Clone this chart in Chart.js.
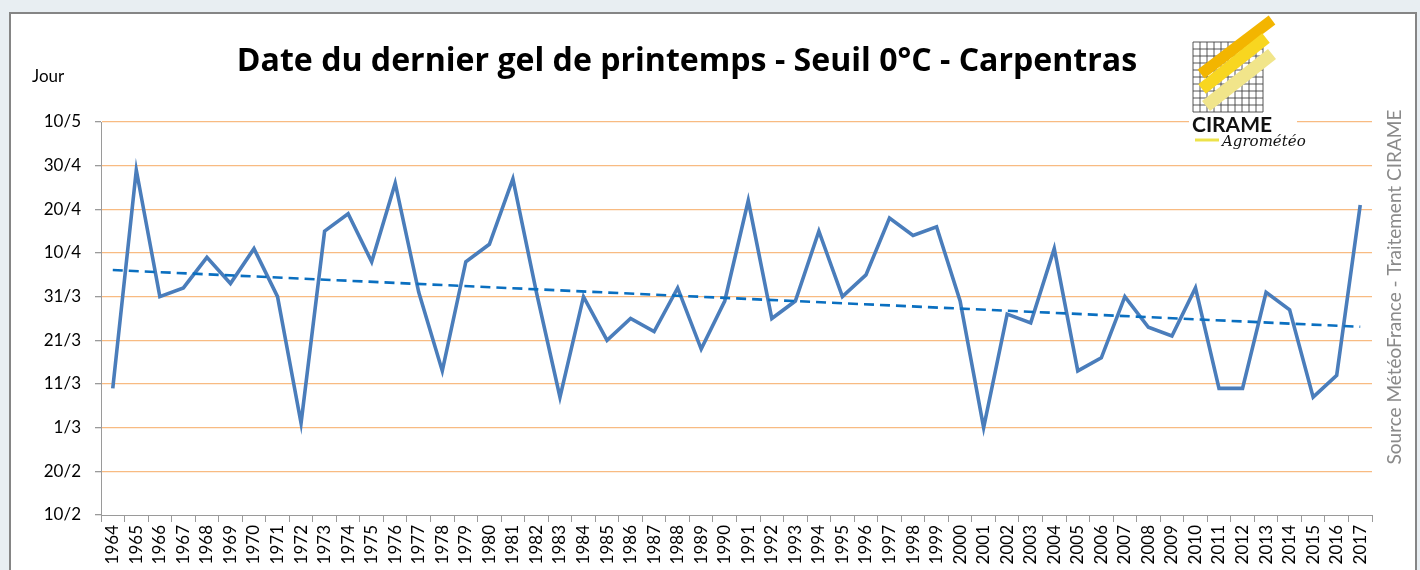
<!DOCTYPE html>
<html>
<head>
<meta charset="utf-8">
<script src="https://cdn.jsdelivr.net/npm/chart.js@4.4.1/dist/chart.umd.min.js"></script>
<style>
  html, body { margin: 0; padding: 0; background: #e8eef2; }
  #wrap { width: 1420px; height: 570px; position: relative; overflow: hidden; }
  canvas { display: block; }
</style>
</head>
<body>
<div id="wrap"><canvas id="c" width="1420" height="570"></canvas></div>
<script>
// ---- DATA ----
const years = ['1964','1965','1966','1967','1968','1969','1970','1971','1972','1973',
  '1974','1975','1976','1977','1978','1979','1980','1981','1982','1983',
  '1984','1985','1986','1987','1988','1989','1990','1991','1992','1993',
  '1994','1995','1996','1997','1998','1999','2000','2001','2002','2003',
  '2004','2005','2006','2007','2008','2009','2010','2011','2012','2013',
  '2014','2015','2016','2017'];
// date of last spring frost (day/month)
const lastFrost = ['10/3','29/4','31/3','2/4','9/4','3/4','11/4','31/3','2/3','15/4',
  '19/4','8/4','26/4','1/4','14/3','8/4','12/4','27/4','1/4','8/3',
  '31/3','21/3','26/3','23/3','2/4','19/3','30/3','22/4','26/3','30/3',
  '15/4','31/3','5/4','18/4','14/4','16/4','30/3','1/3','27/3','25/3',
  '11/4','14/3','17/3','31/3','24/3','22/3','2/4','10/3','10/3','1/4',
  '28/3','8/3','13/3','21/4'];
// linear trend end values (day number): 1964, 2017
const trendYears = ['1964','2017'];
const trendValues = [97.1, 84.1];
const yTickLabels = ['10/2','20/2','1/3','11/3','21/3','31/3','10/4','20/4','30/4','10/5'];

const titleText = 'Date du dernier gel de printemps - Seuil 0°C - Carpentras';
const yAxisTitle = 'Jour';
const sourceText = 'Source MétéoFrance - Traitement CIRAME';

// day/month -> day number (spreadsheet 1900 serial convention)
const monthStart = {1: 0, 2: 31, 3: 60, 4: 91, 5: 121};
function toDay(s) { const [d, m] = s.split('/').map(Number); return monthStart[m] + d; }
const frostDays = lastFrost.map(toDay);
const yTickValues = yTickLabels.map(toDay);

const FONT = 'Lato, "Open Sans", sans-serif';

const decor = {
  id: 'decor',
  beforeDraw(chart) {
    const ctx = chart.ctx;
    ctx.save();
    ctx.fillStyle = '#e8eef2';
    ctx.fillRect(0, 0, 1420, 570);
    ctx.fillStyle = '#ffffff';
    ctx.fillRect(10, 13, 1406, 570);
    ctx.strokeStyle = '#858585';
    ctx.lineWidth = 2;
    ctx.strokeRect(10, 13, 1406, 600);
    ctx.restore();
  },
  afterDraw(chart) {
    const ctx = chart.ctx;
    ctx.save();
    // title, fitted to the reference extent
    ctx.fillStyle = '#000';
    ctx.font = 'bold 30px "Open Sans", Lato, sans-serif';
    const w = ctx.measureText(titleText).width;
    const size = 30 * 901 / w;
    ctx.font = 'bold ' + size.toFixed(2) + 'px "Open Sans", Lato, sans-serif';
    ctx.textAlign = 'center';
    ctx.textBaseline = 'alphabetic';
    ctx.fillText(titleText, 687, 71);
    // Jour
    ctx.font = '17px ' + FONT;
    ctx.textAlign = 'left';
    ctx.fillText(yAxisTitle, 32, 82);
    // source (vertical)
    ctx.save();
    ctx.translate(1401, 287);
    ctx.rotate(-Math.PI / 2);
    ctx.fillStyle = '#8a8a8a';
    ctx.font = '19px ' + FONT;
    ctx.textAlign = 'center';
    ctx.textBaseline = 'alphabetic';
    ctx.fillText(sourceText, 0, 0);
    ctx.restore();
    // logo
    ctx.fillStyle = '#fff';
    ctx.fillRect(1189, 112, 108, 40);
    ctx.strokeStyle = '#444';
    ctx.lineWidth = 0.9;
    const gx0 = 1193, gy0 = 42, cell = 7;
    for (let i = 0; i <= 10; i++) {
      ctx.beginPath(); ctx.moveTo(gx0 + i * cell, gy0); ctx.lineTo(gx0 + i * cell, gy0 + 10 * cell); ctx.stroke();
      ctx.beginPath(); ctx.moveTo(gx0, gy0 + i * cell); ctx.lineTo(gx0 + 10 * cell, gy0 + i * cell); ctx.stroke();
    }
    function stripe(x1, y1, x2, y2, w, col) {
      ctx.strokeStyle = col; ctx.lineWidth = w; ctx.lineCap = 'butt';
      ctx.beginPath(); ctx.moveTo(x1, y1); ctx.lineTo(x2, y2); ctx.stroke();
    }
    stripe(1201, 74, 1272, 20, 11, '#f3b500');
    stripe(1202, 89, 1266, 38, 12, '#f8d620');
    stripe(1206, 106, 1272, 54, 13, '#f1e58a');
    ctx.fillStyle = '#111';
    ctx.font = 'bold 21px ' + FONT;
    ctx.textAlign = 'left';
    ctx.fillText('CIRAME', 1192, 132);
    ctx.font = 'italic 15px "DejaVu Serif", serif';
    ctx.fillText('Agrométéo', 1222, 146);
    ctx.strokeStyle = '#ece24a';
    ctx.lineWidth = 3;
    ctx.beginPath(); ctx.moveTo(1195, 140); ctx.lineTo(1219, 140); ctx.stroke();
    ctx.restore();
  }
};

new Chart(document.getElementById('c'), {
  type: 'line',
  data: {
    labels: years,
    datasets: [
      {
        label: 'Tendance',
        data: trendYears.map((y, i) => ({ x: y, y: trendValues[i] })),
        borderColor: '#0a6fc0',
        borderWidth: 2.6,
        borderDash: [10, 6],
        pointRadius: 0,
        tension: 0,
        fill: false
      },
      {
        label: 'Dernier gel',
        data: frostDays,
        borderColor: '#4a7dbb',
        borderWidth: 3.6,
        pointRadius: 0,
        tension: 0,
        fill: false
      }
    ]
  },
  options: {
    responsive: false,
    devicePixelRatio: 1,
    animation: false,
    layout: { padding: { top: 122, right: 48, bottom: 0, left: 0 } },
    plugins: { legend: { display: false }, title: { display: false }, tooltip: { enabled: false } },
    scales: {
      x: {
        type: 'category',
        offset: true,
        grid: { display: true, drawOnChartArea: false, offset: true, tickLength: 7, tickColor: '#9a9a9a', color: '#9a9a9a' },
        border: { color: '#9a9a9a', width: 1 },
        ticks: { autoSkip: false, minRotation: 90, maxRotation: 90, padding: 3, color: '#000', font: { family: FONT, size: 17 } },
        afterFit(scale) { scale.height = 55; }
      },
      y: {
        type: 'linear',
        min: 41,
        max: 131,
        afterBuildTicks(scale) { scale.ticks = yTickValues.map(v => ({ value: v })); },
        grid: {
          color: (c) => (c.tick && c.tick.value === yTickValues[0]) ? 'rgba(0,0,0,0)' : '#f8bb82',
          lineWidth: 1.3, tickLength: 6, tickColor: '#9a9a9a'
        },
        border: { color: '#9a9a9a', width: 1 },
        ticks: {
          padding: 14,
          color: '#000',
          font: { family: FONT, size: 17 },
          callback: (v) => yTickLabels[yTickValues.indexOf(v)]
        },
        afterFit(scale) { scale.width = 101; }
      }
    }
  },
  plugins: [decor]
});
</script>
</body>
</html>
